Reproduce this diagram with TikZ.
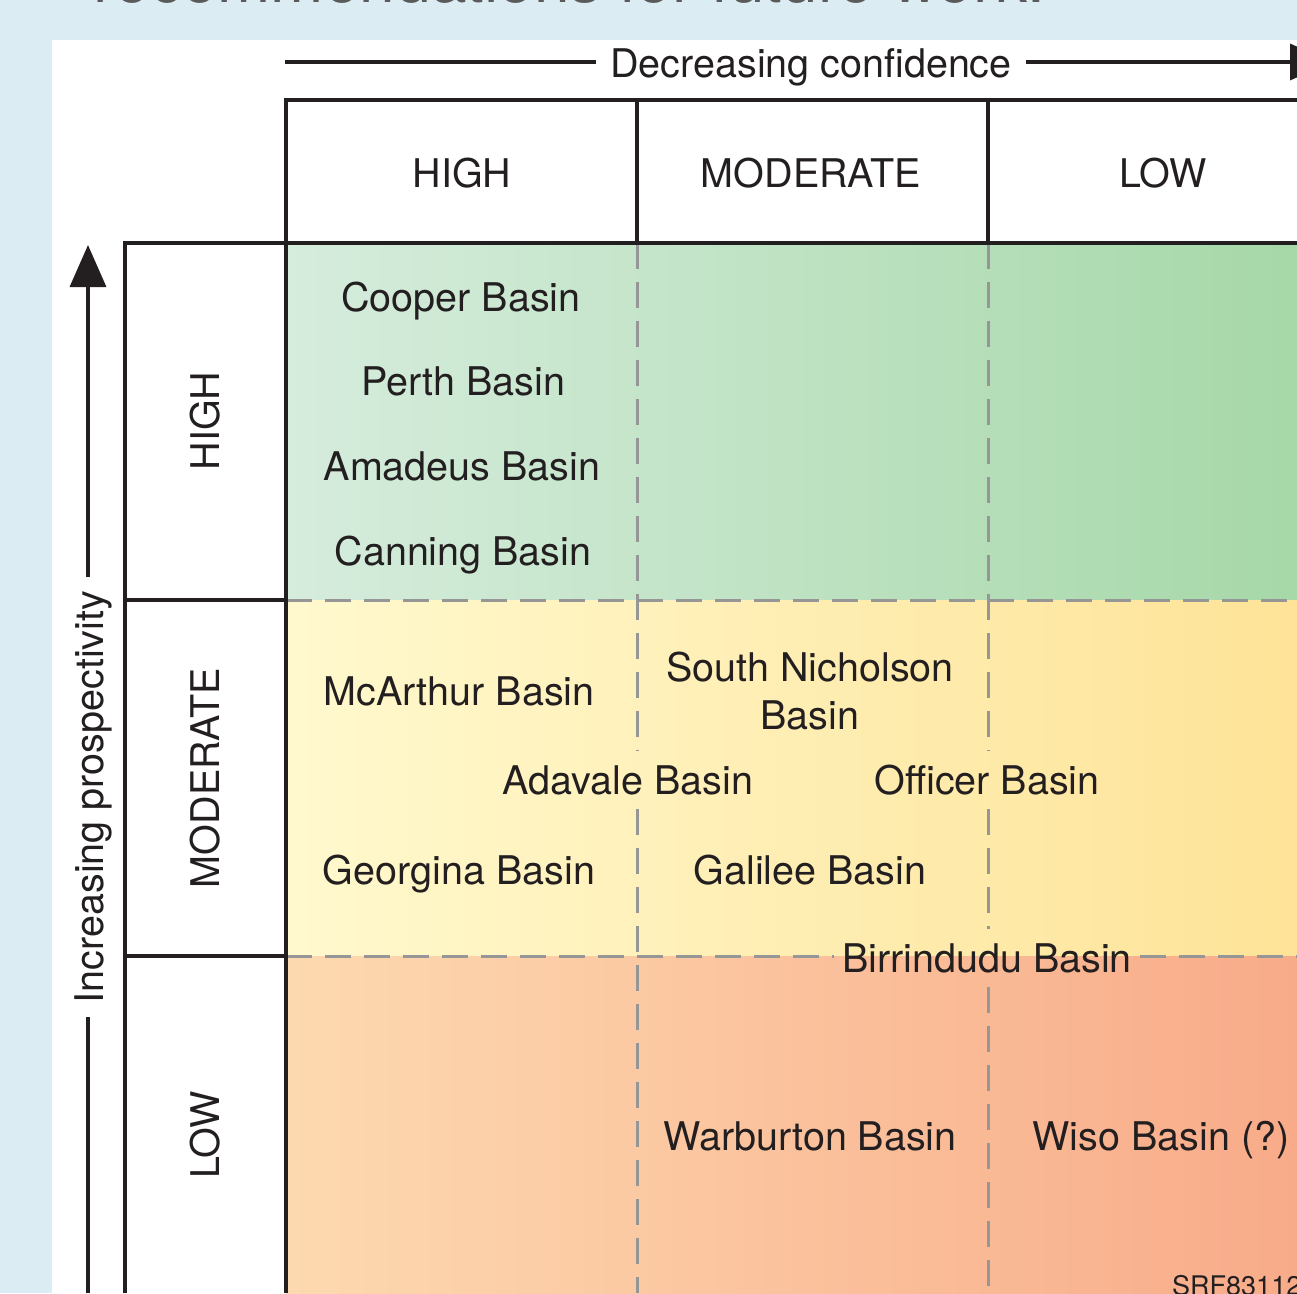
\documentclass[tikz,border=0pt]{standalone}
\usepackage{fontspec}
\setmainfont{TeX Gyre Heros}
\usetikzlibrary{arrows.meta}
\definecolor{RankBackdrop}{RGB}{219,237,243}
\definecolor{RankInk}{RGB}{35,31,32}
\definecolor{RankDash}{RGB}{150,150,150}
\definecolor{RankTitle}{RGB}{90,90,90}
\definecolor{HighLeft}{RGB}{214,236,221}
\definecolor{HighRight}{RGB}{166,216,168}
\definecolor{ModLeft}{RGB}{255,249,206}
\definecolor{ModRight}{RGB}{254,227,152}
\definecolor{LowLeft}{RGB}{253,217,176}
\definecolor{LowRight}{RGB}{248,171,137}
\tikzset{
    rank/diagram/.style={
        x=1pt, y=-1pt,
        font=\fontsize{39.5}{48}\selectfont,
        text=RankInk,
        line join=miter
    },
    rank/rule/.style={draw=RankInk, line width=4pt},
    rank/divider/.style={
        draw=RankDash, line width=3pt,
        dash pattern=on 26pt off 13pt
    },
    rank/axis/.style={draw=RankInk, line width=3.5pt},
    rank/tip/.style={-{Triangle[length=42pt, width=36pt]}},
    rank/heading/.style={anchor=base, inner sep=0pt},
    rank/caption/.style={anchor=base, inner xsep=14pt, inner ysep=0pt},
    rank/basin/.style={anchor=base, inner xsep=8pt, inner ysep=14pt, align=center},
    rank/title/.style={
        anchor=base east, inner sep=0pt, text=RankTitle,
        font=\fontsize{64}{76}\selectfont
    },
    rank/code/.style={
        anchor=base west, inner sep=0pt,
        font=\fontsize{27}{32}\selectfont
    }
}

\begin{document}
\begin{tikzpicture}[rank/diagram]
    \useasboundingbox (0,0) rectangle (1297,1293);
    \clip (0,0) rectangle (1297,1293);
    % Backdrop, sheet and the heading running off the top.
    \fill[RankBackdrop] (0,0) rectangle (1297,1293);
    \fill[white] (52,40) rectangle (1297,1293);
    \node[rank/title] (title) at (1045,2) {recommendations for future work.};
    % One band per prospectivity class, darker towards low confidence.
    \shade[left color=HighLeft, right color=HighRight] (286,243) rectangle (1297,600);
    \shade[left color=ModLeft, right color=ModRight] (286,600) rectangle (1297,956);
    \shade[left color=LowLeft, right color=LowRight] (286,956) rectangle (1297,1293);
    \coordinate (col a) at (637,243);
    \coordinate (col b) at (988,243);
    \coordinate (row b) at (286,956);
    \coordinate (chart foot) at (0,1293);
    % Basins.
    \node[rank/basin] (cooper) at (461,311) {Cooper Basin};
    \node[rank/basin] (perth) at (463,395) {Perth Basin};
    \node[rank/basin] (amadeus) at (462,480) {Amadeus Basin};
    \node[rank/basin] (canning) at (463,565) {Canning Basin};
    \node[rank/basin] (mcarthur) at (459,705) {McArthur Basin};
    \node[rank/basin, anchor=center] (nicholson) at (810,691) {South Nicholson\\Basin};
    \node[rank/basin] (adavale) at (628,794) {Adavale Basin};
    \node[rank/basin] (officer) at (987,794) {Officer Basin};
    \node[rank/basin] (georgina) at (459,884) {Georgina Basin};
    \node[rank/basin] (galilee) at (810,884) {Galilee Basin};
    \node[rank/basin] (birrindudu) at (987,972) {Birrindudu Basin};
    \node[rank/basin] (warburton) at (810,1150) {Warburton Basin};
    \node[rank/basin] (wiso) at (1161,1150) {Wiso Basin (?)};
    % Dashed class boundaries, broken where a name sits on them.
    \draw[rank/divider] (col a) -- (adavale.north -| col a)
        (adavale.south -| col a) -- (col a |- chart foot);
    \draw[rank/divider] (col b) -- (officer.north -| col b)
        (officer.south -| col b) -- (birrindudu.north -| col b)
        (birrindudu.south -| col b) -- (col b |- chart foot);
    \draw[rank/divider] (286,600) -- (1297,600);
    \draw[rank/divider] (row b) -- (birrindudu.west |- row b)
        (birrindudu.east |- row b) -- (1297,956);
    % Frame of the table.
    \draw[rank/rule] (125,1293) -- (125,243) -- (1297,243);
    \draw[rank/rule] (286,1293) -- (286,100) -- (1297,100);
    \draw[rank/rule] (637,100) -- (col a) (988,100) -- (col b);
    \draw[rank/rule] (125,600) -- (286,600) (125,956) -- (286,956);
    % Column and row headings.
    \node[rank/heading] (conf high) at (462,187) {HIGH};
    \node[rank/heading] (conf moderate) at (811,187) {MODERATE};
    \node[rank/heading] (conf low) at (1163,187) {LOW};
    \node[rank/heading, rotate=90] (pros high) at (219,421) {HIGH};
    \node[rank/heading, rotate=90] (pros moderate) at (219,778) {MODERATE};
    \node[rank/heading, rotate=90] (pros low) at (219,1135) {LOW};
    % Axes.
    \coordinate (conf start) at (285,62);
    \coordinate (conf end) at (1332,62);
    \node[rank/caption] (confidence) at (811,77) {Decreasing confidence};
    \draw[rank/axis] (conf start) -- (confidence.west |- conf start);
    \draw[rank/axis, rank/tip] (confidence.east |- conf start) -- (conf end);
    \coordinate (pros start) at (88,1293);
    \coordinate (pros end) at (88,245);
    \node[rank/caption, rotate=90] (prospectivity) at (103,797) {Increasing prospectivity};
    \draw[rank/axis] (pros start) -- (pros start |- prospectivity.west);
    \draw[rank/axis, rank/tip] (pros start |- prospectivity.east) -- (pros end);
    \node[rank/code] (code) at (1172,1295) {SRF83112};
\end{tikzpicture}
\end{document}
